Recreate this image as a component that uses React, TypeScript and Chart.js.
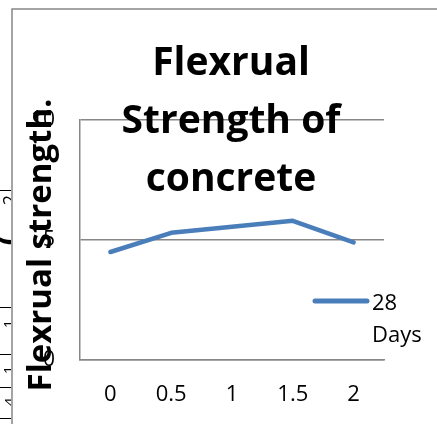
import React, { useEffect, useRef } from "react";
import { Chart, registerables } from "chart.js";

Chart.register(...registerables);

const categories = ["0", "0.5", "1", "1.5", "2"];
const strength28Days = [4.5, 5.3, 5.55, 5.8, 4.9];
const seriesLabel = ["28", "Days"];
const titleLines = ["Flexrual", "Strength of", "concrete"];
const yAxisTitle = "Flexrual strength.";
const yMin = 0;
const yMax = 10;
const yStep = 5;

const FONT = "'Open Sans', 'Liberation Sans', sans-serif";
const GRAY = "#878787";
const BLUE = "#4a7ebb";

const decorPlugin = {
  id: "decor",
  beforeDraw(chart: any) {
    const ctx = chart.ctx;
    ctx.save();
    ctx.fillStyle = "#ffffff";
    ctx.fillRect(0, 0, chart.width, chart.height);
    // outer chart frame
    ctx.strokeStyle = GRAY;
    ctx.lineWidth = 1.5;
    ctx.beginPath();
    ctx.moveTo(12, chart.height);
    ctx.lineTo(12, 9);
    ctx.lineTo(chart.width, 9);
    ctx.stroke();
    // clipped spreadsheet fragments on the far left
    ctx.strokeStyle = "#000000";
    ctx.lineWidth = 1;
    [190, 307, 354, 387, 418].forEach((y) => {
      ctx.beginPath();
      ctx.moveTo(0, y + 0.5);
      ctx.lineTo(11, y + 0.5);
      ctx.stroke();
    });
    ctx.beginPath();
    ctx.rect(0, 0, 11, chart.height);
    ctx.clip();
    ctx.fillStyle = "#000000";
    const frag = (t: string, x: number, y: number, f: string) => {
      ctx.save();
      ctx.translate(x, y);
      ctx.rotate(-Math.PI / 2);
      ctx.font = f;
      ctx.textAlign = "center";
      ctx.textBaseline = "alphabetic";
      ctx.fillText(t, 0, 0);
      ctx.restore();
    };
    frag("2", 16, 200, `18px ${FONT}`);
    frag("(", 20, 240, `bold 32px ${FONT}`);
    frag("1", 14, 324, `14px ${FONT}`);
    frag("1", 14, 370, `14px ${FONT}`);
    frag("4", 15, 402, `15px ${FONT}`);
    ctx.restore();
  },
  afterDraw(chart: any) {
    const ctx = chart.ctx;
    ctx.save();
    // title
    ctx.fillStyle = "#000000";
    ctx.font = `bold 39px ${FONT}`;
    ctx.textAlign = "center";
    ctx.textBaseline = "alphabetic";
    titleLines.forEach((t, i) => ctx.fillText(t, 231, 75 + i * 58));
    // y axis title
    ctx.save();
    ctx.translate(51, 245);
    ctx.rotate(-Math.PI / 2);
    ctx.font = `bold 33px ${FONT}`;
    ctx.fillText(yAxisTitle, 0, 0);
    ctx.restore();
    // legend
    ctx.strokeStyle = BLUE;
    ctx.lineWidth = 5;
    ctx.lineCap = "round";
    ctx.beginPath();
    ctx.moveTo(315, 301);
    ctx.lineTo(367, 301);
    ctx.stroke();
    ctx.font = `22px ${FONT}`;
    ctx.textAlign = "left";
    seriesLabel.forEach((t, i) => ctx.fillText(t, 372, 310 + i * 32));
    ctx.restore();
  },
};

export default function App() {
  const ref = useRef<HTMLCanvasElement>(null);
  useEffect(() => {
    if (!ref.current) return;
    const chart = new Chart(ref.current, {
      type: "line",
      data: {
        labels: categories,
        datasets: [
          {
            label: seriesLabel.join(" "),
            data: strength28Days,
            borderColor: BLUE,
            backgroundColor: BLUE,
            borderWidth: 4.5,
            borderCapStyle: "round",
            borderJoinStyle: "round",
            pointRadius: 0,
            tension: 0,
          },
        ],
      },
      options: {
        responsive: false,
        animation: false,
        devicePixelRatio: 1,
        layout: { padding: { top: 120, right: 53, left: 0, bottom: 0 } },
        plugins: {
          legend: { display: false },
          title: { display: false },
          tooltip: { enabled: false },
        },
        scales: {
          x: {
            type: "category",
            offset: true,
            grid: { display: false, drawTicks: false },
            border: { display: true, color: GRAY, width: 1.5 },
            ticks: {
              color: "#000000",
              font: { family: FONT, size: 22 },
              padding: 22,
              maxRotation: 0,
            },
            afterFit: (s: any) => {
              s.height = 64;
            },
          },
          y: {
            min: yMin,
            max: yMax,
            grid: { color: GRAY, lineWidth: 1.5, drawTicks: false },
            border: { display: true, color: GRAY, width: 1.5 },
            ticks: {
              stepSize: yStep,
              color: "#000000",
              font: { family: FONT, size: 21 },
              padding: 25,
            },
            afterFit: (s: any) => {
              s.width = 80;
            },
          },
        },
      },
      plugins: [decorPlugin],
    });
    return () => chart.destroy();
  }, []);
  return (
    <div style={{ position: "fixed", left: 0, top: 0, width: 437, height: 424 }}>
      <canvas ref={ref} width={437} height={424} style={{ width: 437, height: 424 }} />
    </div>
  );
}
